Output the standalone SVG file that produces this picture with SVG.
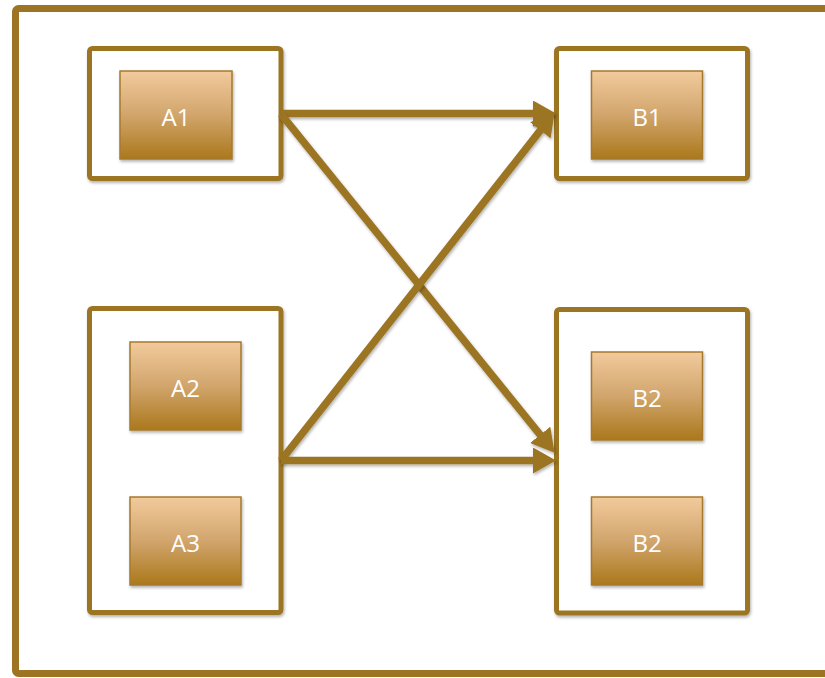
<svg xmlns="http://www.w3.org/2000/svg" width="825" height="678" viewBox="0 0 825 678">
  <defs>
    <linearGradient id="boxFill" x1="0" y1="0" x2="0" y2="1">
      <stop offset="0" stop-color="#F2CA9C"/>
      <stop offset="0.5" stop-color="#D1A56C"/>
      <stop offset="1" stop-color="#AB781C"/>
    </linearGradient>
    <!-- region in user space so zero-height lines keep their shadow -->
    <filter id="shadow" filterUnits="userSpaceOnUse" x="0" y="0" width="825" height="678">
      <feDropShadow dx="1" dy="2" stdDeviation="1.5" flood-color="#000" flood-opacity="0.3"/>
    </filter>
    <marker id="arrow" markerUnits="userSpaceOnUse" markerWidth="24" markerHeight="26" refX="12" refY="13" orient="auto">
      <path d="M0,0 L23,13 L0,26 Z" fill="#9C7424"/>
    </marker>
    <style>
      .frame { fill: none; stroke: #9C7424; stroke-width: 7; }
      .group { fill: #fff; stroke: #9C7424; stroke-width: 5; filter: url(#shadow); }
      .item { fill: url(#boxFill); stroke: #A67A2C; stroke-width: 1.5; filter: url(#shadow); }
      .label { fill: #fff; font-family: "Open Sans", "Liberation Sans", sans-serif; font-size: 24px; text-anchor: middle; dominant-baseline: central; }
      .link { stroke: #9C7424; stroke-width: 7.5; fill: none; marker-end: url(#arrow); filter: url(#shadow); }
    </style>
  </defs>

  <rect width="825" height="678" fill="#fff"/>

  <!-- outer container -->
  <rect class="frame" x="15.5" y="8.5" width="830" height="665" rx="3"/>

  <!-- source A1 -->
  <g id="groupA1">
    <rect class="group" x="89.5" y="48.5" width="191.5" height="130" rx="3"/>
    <g id="A1">
      <rect class="item" x="120" y="71" width="112" height="88"/>
      <text class="label" x="176" y="116">A1</text>
    </g>
  </g>

  <!-- sources A2, A3 -->
  <g id="groupA23">
    <rect class="group" x="89.5" y="308.5" width="191.5" height="304" rx="3"/>
    <g id="A2">
      <rect class="item" x="130" y="342" width="111" height="88"/>
      <text class="label" x="185.5" y="387">A2</text>
    </g>
    <g id="A3">
      <rect class="item" x="130" y="497" width="111" height="88"/>
      <text class="label" x="185.5" y="542">A3</text>
    </g>
  </g>

  <!-- target B1 -->
  <g id="groupB1">
    <rect class="group" x="556.5" y="48.5" width="191" height="130" rx="3"/>
    <g id="B1">
      <rect class="item" x="591.5" y="71" width="111" height="88"/>
      <text class="label" x="647" y="116">B1</text>
    </g>
  </g>

  <!-- targets B2 -->
  <g id="groupB2">
    <rect class="group" x="556.5" y="309.5" width="191" height="303.5" rx="3"/>
    <g id="B2a">
      <rect class="item" x="591.5" y="352" width="111" height="88"/>
      <text class="label" x="647" y="397">B2</text>
    </g>
    <g id="B2b">
      <rect class="item" x="591.5" y="497" width="111" height="88"/>
      <text class="label" x="647" y="542">B2</text>
    </g>
  </g>

  <!-- connectors -->
  <g id="connectors">
    <line class="link" x1="281" y1="113.5" x2="545" y2="113.5"/>
    <line class="link" x1="281" y1="114" x2="547.7" y2="444.2"/>
    <line class="link" x1="281" y1="460.5" x2="547.8" y2="120.9"/>
    <line class="link" x1="281" y1="460.5" x2="545" y2="460.5"/>
  </g>
</svg>
